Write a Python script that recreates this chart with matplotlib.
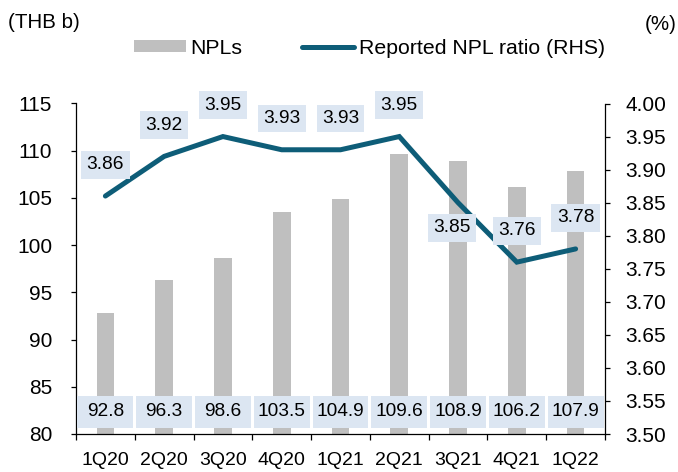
import numpy as np
import matplotlib
matplotlib.use("Agg")
import matplotlib.pyplot as plt
from matplotlib.ticker import FormatStrFormatter, MultipleLocator

plt.rcParams['font.family'] = ['Liberation Sans', 'DejaVu Sans']

# data
quarters = ['1Q20', '2Q20', '3Q20', '4Q20', '1Q21', '2Q21', '3Q21', '4Q21', '1Q22']
npls = [92.8, 96.3, 98.6, 103.5, 104.9, 109.6, 108.9, 106.2, 107.9]
npl_ratio = [3.86, 3.92, 3.95, 3.93, 3.93, 3.95, 3.85, 3.76, 3.78]

bar_color = '#BFBFBF'
line_color = '#0E5D78'
box_color = '#DCE6F2'

fig = plt.figure(figsize=(6.78, 4.72), dpi=100)
ax = fig.add_axes([76 / 678, 1 - 434 / 472, (605 - 76) / 678, (434 - 103.5) / 472])
ax2 = ax.twinx()

x = np.arange(len(quarters))

# bars (left axis)
ax.bar(x, npls, width=0.3, color=bar_color, zorder=2, label='NPLs')
# label band at the bottom
ax.bar(x, 3.4, bottom=80.64, width=0.95, color=box_color, zorder=3)
for xi, v in zip(x, npls):
    ax.text(xi, 82.33, f'{v:.1f}', ha='center', va='center', fontsize=13.8, zorder=4)

ax.set_xlim(-0.5, len(quarters) - 0.5)
ax.set_ylim(80, 115)
ax.yaxis.set_major_locator(MultipleLocator(5))
ax.set_xticks(x)
ax.set_xticklabels(quarters, fontsize=14)
ax.set_xticks(np.arange(-0.5, len(quarters)), minor=True)
ax.tick_params(axis='x', which='major', length=0, pad=13)
ax.tick_params(axis='x', which='minor', length=4.3, width=0.9, direction='out')
ax.tick_params(axis='y', length=3.6, width=0.9, direction='out', pad=13.5, labelsize=15)

# line (right axis)
ax2.plot(x, npl_ratio, color=line_color, lw=3.6, solid_capstyle='round',
         solid_joinstyle='miter', zorder=3, label='Reported NPL ratio (RHS)')
offsets = {6: (-4.3, -18)}
for i, (xi, v) in enumerate(zip(x, npl_ratio)):
    dx, dy = offsets.get(i, (0, 22.5))
    ax2.annotate(f'{v:.2f}', (xi, v), xytext=(dx, dy), textcoords='offset points',
                 ha='center', va='center', fontsize=13.8, zorder=5,
                 bbox=dict(boxstyle='square,pad=0.28', fc=box_color, ec='none'))

ax2.set_ylim(3.5, 4.0)
ax2.yaxis.set_major_locator(MultipleLocator(0.05))
ax2.yaxis.set_major_formatter(FormatStrFormatter('%.2f'))
ax2.tick_params(axis='y', length=3.6, width=0.9, direction='out', pad=10.8, labelsize=15)

for a in (ax, ax2):
    a.spines['top'].set_visible(False)
    for s in ('left', 'right', 'bottom'):
        a.spines[s].set_linewidth(0.9)
        a.spines[s].set_color('black')
ax.spines['right'].set_visible(False)
ax2.spines['left'].set_visible(False)
ax2.spines['bottom'].set_visible(False)

# unit labels
fig.text(8 / 678, 1 - 23 / 472, '(THB b)', fontsize=14.8, ha='left', va='center')
fig.text(677 / 678, 1 - 25 / 472, '(%)', fontsize=14.8, ha='right', va='center')

# legend
h1, l1 = ax.get_legend_handles_labels()
h2, l2 = ax2.get_legend_handles_labels()
fig.legend(h1 + h2, l1 + l2, loc='center', bbox_to_anchor=(369.5 / 678, 1 - 48 / 472),
           ncol=2, frameon=False, fontsize=15.3, handlelength=2.45, handleheight=0.47,
           handletextpad=0.24, columnspacing=2.8)

fig.savefig('out.png', dpi=100)
